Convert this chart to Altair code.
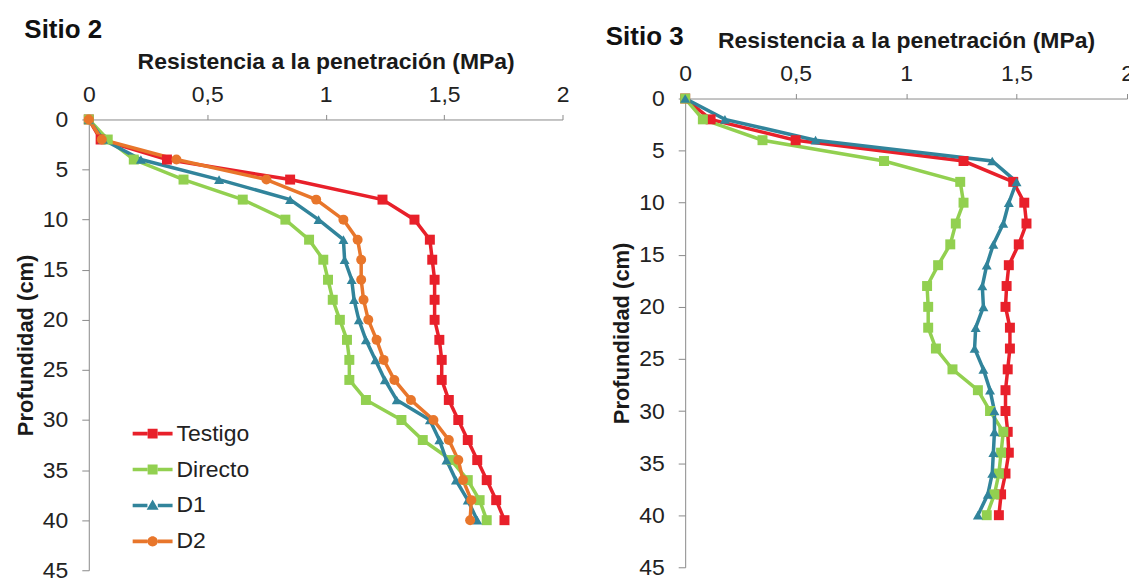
import altair as alt
import pandas as pd

FONT = "Liberation Sans"

depth = list(range(0, 42, 2))
series = ["Testigo", "Directo", "D1", "D2"]
colors = ["#E8202A", "#92D050", "#31849B", "#E8762B"]
shapes = ["square", "square", "triangle-up", "circle"]

# Sitio 2
s2_testigo = [0, 0.05, 0.33, 0.85, 1.24, 1.375, 1.44, 1.45, 1.46, 1.46, 1.46, 1.48, 1.49, 1.49, 1.52, 1.56, 1.60, 1.64, 1.68, 1.72, 1.755]
s2_directo = [0, 0.08, 0.19, 0.40, 0.65, 0.83, 0.93, 0.99, 1.01, 1.03, 1.06, 1.09, 1.10, 1.10, 1.17, 1.32, 1.41, 1.53, 1.60, 1.65, 1.68]
s2_d1 = [0, 0.06, 0.22, 0.55, 0.85, 0.97, 1.075, 1.08, 1.11, 1.12, 1.14, 1.17, 1.21, 1.25, 1.30, 1.44, 1.48, 1.51, 1.55, 1.60, 1.64]
s2_d2 = [0, 0.055, 0.37, 0.75, 0.96, 1.075, 1.135, 1.15, 1.15, 1.16, 1.18, 1.215, 1.245, 1.29, 1.36, 1.455, 1.52, 1.56, 1.58, 1.615, 1.61]

# Sitio 3
s3_testigo = [0, 0.115, 0.50, 1.26, 1.485, 1.535, 1.545, 1.51, 1.465, 1.455, 1.45, 1.47, 1.47, 1.46, 1.45, 1.45, 1.46, 1.465, 1.45, 1.43, 1.42]
s3_directo = [0, 0.08, 0.35, 0.90, 1.245, 1.26, 1.225, 1.20, 1.145, 1.095, 1.10, 1.10, 1.135, 1.21, 1.325, 1.38, 1.44, 1.43, 1.42, 1.40, 1.365]
s3_d1 = [0, 0.18, 0.59, 1.39, 1.50, 1.465, 1.44, 1.395, 1.365, 1.345, 1.35, 1.315, 1.31, 1.35, 1.38, 1.40, 1.40, 1.395, 1.39, 1.37, 1.325]

x_ticks = [0, 0.5, 1, 1.5, 2]
y_ticks = [0, 5, 10, 15, 20, 25, 30, 35, 40, 45]

# legend glyphs: line segment with the series marker in the middle (unit = half symbol width)
_seg = "M-1,-0.09L-0.26,-0.09L-0.26,0.09L-1,0.09Z M0.26,-0.09L1,-0.09L1,0.09L0.26,0.09Z"
legend_glyphs = [
    _seg + " M-0.25,-0.25L0.25,-0.25L0.25,0.25L-0.25,0.25Z",
    _seg + " M-0.25,-0.25L0.25,-0.25L0.25,0.25L-0.25,0.25Z",
    _seg + " M0,-0.3L0.3,0.22L-0.3,0.22Z",
    _seg + " M-0.26,0A0.26,0.26 0 1,1 0.26,0A0.26,0.26 0 1,1 -0.26,0Z",
]


def to_long(d):
    rows = []
    for name, vals in d.items():
        for dep, v in zip(depth, vals):
            rows.append({"serie": name, "serie_l": name, "prof": dep, "res": v})
    return pd.DataFrame(rows)


df2 = to_long({"Testigo": s2_testigo, "Directo": s2_directo, "D1": s2_d1, "D2": s2_d2})
df3 = to_long({"Testigo": s3_testigo, "Directo": s3_directo, "D1": s3_d1})

AX = dict(grid=False, domainColor="#8a8a8a", tickColor="#8a8a8a", labelColor="#222222",
          titleColor="#1a1a1a", labelFont=FONT, titleFont=FONT, labelFontSize=23,
          titleFontWeight="bold", labelFlush=False, labelOverlap=False)


def xenc(offset=0):
    return alt.X("res:Q", scale=alt.Scale(domain=[0, 2], nice=False, zero=True),
                 axis=alt.Axis(orient="top", values=x_ticks, title="Resistencia a la penetración (MPa)",
                               labelExpr="replace(format(datum.value, '~g'), '.', ',')",
                               tickSize=5, labelPadding=8, titlePadding=10, offset=offset,
                               titleFontSize=23, **AX))


def yenc(rng=None):
    sc = alt.Scale(domain=[0, 45], nice=False, zero=False, range=rng) if rng else \
        alt.Scale(domain=[0, 45], nice=False, reverse=True)
    return alt.Y("prof:Q", scale=sc,
                 axis=alt.Axis(values=y_ticks, title="Profundidad (cm)", tickSize=7,
                               labelPadding=14, titlePadding=5, titleFontSize=22, **AX))


cscale = alt.Scale(domain=series, range=colors)
sscale = alt.Scale(domain=series, range=shapes)

TOP_GAP = 21      # left panel starts lower than the right one
H_LEFT = 452
H_RIGHT = 470

# Left panel
base2 = alt.Chart(df2)
X2 = xenc(offset=-TOP_GAP)
Y2 = yenc(rng=[TOP_GAP, TOP_GAP + H_LEFT])
lines2 = base2.mark_line(strokeWidth=3.5).encode(
    x=X2, y=Y2,
    color=alt.Color("serie:N", scale=cscale, legend=None),
    order=alt.Order("prof:Q"),
)
points2 = base2.mark_point(filled=True, size=100, opacity=1).encode(
    x=X2, y=Y2,
    color=alt.Color("serie:N", scale=cscale, legend=None),
    shape=alt.Shape("serie:N", scale=sscale, legend=None),
)
leg = alt.Legend(orient="none", legendX=44, legendY=316, title=None, symbolSize=1600,
                 symbolStrokeWidth=0, rowPadding=4, labelOffset=4, labelFont=FONT,
                 labelFontSize=23, labelColor="#222222")
legend_layer = base2.transform_filter("false").mark_point(filled=True, opacity=1).encode(
    x=X2, y=Y2,
    color=alt.Color("serie_l:N", scale=cscale, legend=leg),
    shape=alt.Shape("serie_l:N", scale=alt.Scale(domain=series, range=legend_glyphs), legend=leg),
)
left = alt.layer(lines2, points2, legend_layer).resolve_scale(
    color="independent", shape="independent"
).properties(
    width=475, height=TOP_GAP + H_LEFT,
    title=alt.TitleParams("Sitio 2", anchor="start", frame="bounds", fontSize=26, fontWeight="bold",
                          font=FONT, color="#111111", dx=10, offset=8),
)

# Right panel
base3 = alt.Chart(df3)
X3 = xenc()
Y3 = yenc()
lines3 = base3.mark_line(strokeWidth=3.5).encode(
    x=X3, y=Y3,
    color=alt.Color("serie:N", scale=cscale, legend=None),
    order=alt.Order("prof:Q"),
)
points3 = base3.mark_point(filled=True, size=100, opacity=1).encode(
    x=X3, y=Y3,
    color=alt.Color("serie:N", scale=cscale, legend=None),
    shape=alt.Shape("serie:N", scale=sscale, legend=None),
)
right = alt.layer(lines3, points3).properties(
    width=443, height=H_RIGHT,
    title=alt.TitleParams("Sitio 3", anchor="start", frame="bounds", fontSize=26, fontWeight="bold",
                          font=FONT, color="#111111", dx=-5, dy=20, offset=0),
)

chart = alt.hconcat(left, right, spacing=36).resolve_scale(
    color="independent", shape="independent"
).configure(
    padding={"left": 6, "top": 8, "right": -5, "bottom": 0}, background="white"
).configure_view(stroke=None)

chart.save("out.html", embed_options={"renderer": "svg", "actions": False})
